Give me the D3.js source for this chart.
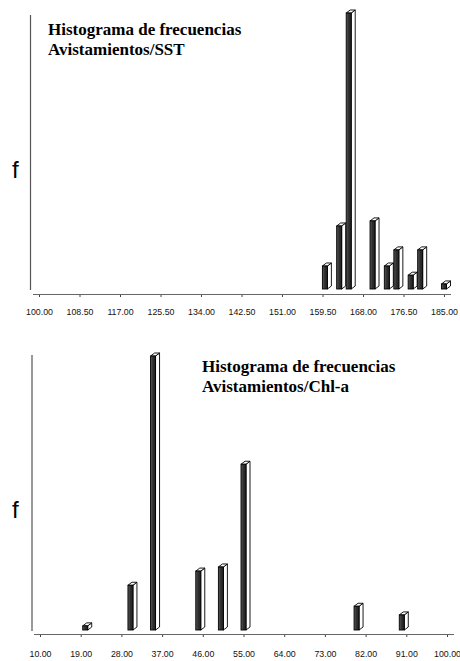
<!DOCTYPE html>
<html><head><meta charset="utf-8">
<script src="https://cdn.jsdelivr.net/npm/d3@7"></script>
<style>body{margin:0;background:#fff}svg{display:block}</style>
</head><body>
<script>
// ---- data ----
const sstTitle = ["Histograma de frecuencias", "Avistamientos/SST"];
const sstTicks = [100, 108.5, 117, 125.5, 134, 142.5, 151, 159.5, 168, 176.5, 185];
const sstBins = [160, 163, 165, 170, 173, 175, 178, 180, 185];
const sstFreq = [5, 13.7, 60, 14.8, 5, 8.5, 3, 8.5, 1.1];

const chlTitle = ["Histograma de frecuencias", "Avistamientos/Chl-a"];
const chlTicks = [10, 19, 28, 37, 46, 55, 64, 73, 82, 91, 100];
const chlBins = [20, 30, 35, 45, 50, 55, 80, 90];
const chlFreq = [0.9, 9.8, 60, 12.9, 13.8, 36.3, 5.2, 3.3];

const yLabel = "f";

const W = 460, H = 661;
const svg = d3.select("body").append("svg").attr("width", W).attr("height", H);

const defs = svg.append("defs");
const grad = defs.append("linearGradient").attr("id", "front").attr("x1", "0").attr("x2", "1");
grad.append("stop").attr("offset", "0").attr("stop-color", "#5a5a5a");
grad.append("stop").attr("offset", "0.5").attr("stop-color", "#2e2e2e");
grad.append("stop").attr("offset", "1").attr("stop-color", "#222");

function panel(cfg) {
  const g = svg.append("g");
  const x = d3.scaleLinear().domain([cfg.ticks[0], cfg.ticks[cfg.ticks.length - 1]]).range(cfg.xr);
  const y = d3.scaleLinear().domain([0, d3.max(cfg.freq)]).range([cfg.base, cfg.top]);

  // y axis line
  g.append("line").attr("x1", cfg.yx).attr("x2", cfg.yx)
    .attr("y1", cfg.yTop).attr("y2", cfg.base + 1)
    .attr("stroke", "#555").attr("stroke-width", 1.2);

  // x axis
  const ax = g.append("g").attr("transform", `translate(0,${cfg.axisY})`)
    .call(d3.axisBottom(x).tickValues(cfg.ticks).tickSize(3).tickPadding(cfg.pad)
      .tickFormat(d3.format(".2f")));
  ax.select(".domain").remove();
  ax.selectAll(".tick line").attr("stroke", "#444");
  ax.selectAll(".tick text").attr("font-family", "Liberation Sans, Arial, sans-serif")
    .attr("font-size", 8.8).attr("fill", "#111");
  g.append("line").attr("x1", x.range()[0] - 6).attr("x2", x.range()[1] + 7)
    .attr("y1", cfg.axisY + 0.5).attr("y2", cfg.axisY + 0.5)
    .attr("stroke", "#666").attr("stroke-width", 1);

  // bars (3D)
  const fw = 5, dx = 4, dy = 3;
  const data = cfg.bins.map((b, i) => ({ b, f: cfg.freq[i] }));
  const bars = g.selectAll("g.bar").data(data).join("g").attr("class", "bar");
  bars.append("path").attr("d", d => {
    const x1 = x(d.b) + fw / 2, yt = y(d.f), yb = cfg.base;
    return `M${x1},${yb}L${x1 + dx},${yb - dy}L${x1 + dx},${yt - dy}L${x1},${yt}Z`;
  }).attr("fill", "#fff").attr("stroke", "#000").attr("stroke-width", 0.9);
  bars.append("path").attr("d", d => {
    const x0 = x(d.b) - fw / 2, x1 = x(d.b) + fw / 2, yt = y(d.f);
    return `M${x0},${yt}L${x0 + dx},${yt - dy}L${x1 + dx},${yt - dy}L${x1},${yt}Z`;
  }).attr("fill", "#fff").attr("stroke", "#000").attr("stroke-width", 0.9);
  bars.append("rect")
    .attr("x", d => x(d.b) - fw / 2).attr("width", fw)
    .attr("y", d => y(d.f)).attr("height", d => cfg.base - y(d.f))
    .attr("fill", "url(#front)").attr("stroke", "#000").attr("stroke-width", 0.9);

  // f label
  g.append("text").attr("x", cfg.fx).attr("y", cfg.fy).text(yLabel)
    .attr("font-family", "Liberation Sans, Arial, sans-serif").attr("font-size", 24).attr("fill", "#000");

  // title
  const t = g.append("text").attr("font-family", "Liberation Serif, Times New Roman, serif")
    .attr("font-weight", "bold").attr("font-size", 17).attr("fill", "#000");
  cfg.title.forEach((s, i) => t.append("tspan").attr("x", cfg.tx).attr("y", cfg.ty + i * 19.5).text(s));
}

panel({ ticks: sstTicks, bins: sstBins, freq: sstFreq, title: sstTitle,
  xr: [39, 444], base: 289, top: 13, axisY: 294, yx: 30.5, yTop: 15, pad: 12,
  fx: 12, fy: 178, tx: 48, ty: 35 });

panel({ ticks: chlTicks, bins: chlBins, freq: chlFreq, title: chlTitle,
  xr: [40, 447], base: 630, top: 356, axisY: 634, yx: 32, yTop: 355, pad: 14,
  fx: 12, fy: 518, tx: 202, ty: 372 });
</script>
</body></html>
